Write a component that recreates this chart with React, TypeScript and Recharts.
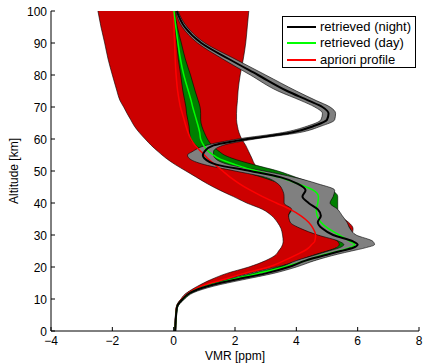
import { ComposedChart, Area, Line, XAxis, YAxis } from 'recharts'

// altitude grid [km]
const alt = [0, 7, 8, 10, 12, 14, 16, 18, 20, 22, 24, 25, 26, 27, 28, 30, 32, 34, 36, 38, 40, 42, 44, 46, 48, 50, 52, 54, 55, 56, 58, 60, 62, 64, 66, 68, 70, 72, 75, 80, 85, 90, 95, 100]

// apriori profile and its error band [ppm]
const apriori = [0.05, 0.09, 0.12, 0.27, 0.5, 0.9, 1.6, 2.3, 3.1, 3.6, 4.05, 4.25, 4.4, 4.5, 4.6, 4.63, 4.55, 4.4, 4.15, 3.8, 3.35, 2.9, 2.5, 2.15, 1.85, 1.6, 1.35, 1.1, 1.0, 0.9, 0.7, 0.56, 0.47, 0.4, 0.34, 0.28, 0.22, 0.18, 0.13, 0.08, 0.05, 0.03, 0.01, 0.0]
const aprioriLow = [0.04, 0.08, 0.1, 0.24, 0.44, 0.78, 1.2, 1.73, 2.45, 3.0, 3.35, 3.42, 3.5, 3.55, 3.57, 3.55, 3.5, 3.38, 3.2, 2.9, 2.38, 1.95, 1.5, 1.1, 0.75, 0.4, 0.05, -0.25, -0.38, -0.5, -0.73, -0.93, -1.12, -1.28, -1.4, -1.52, -1.63, -1.75, -1.85, -2.0, -2.14, -2.25, -2.37, -2.47]
const aprioriHigh = [0.06, 0.1, 0.13, 0.3, 0.52, 0.98, 1.65, 2.45, 3.35, 4.3, 4.85, 5.1, 5.3, 5.45, 5.6, 5.8, 5.85, 5.7, 5.4, 5.2, 5.0, 4.7, 4.3, 3.8, 3.3, 2.85, 2.65, 2.55, 2.5, 2.45, 2.35, 2.22, 2.13, 2.08, 2.05, 2.05, 2.06, 2.08, 2.1, 2.17, 2.27, 2.35, 2.4, 2.45]

// retrieved (night) and its error band
const night = [0.05, 0.1, 0.13, 0.3, 0.55, 1.1, 2.0, 3.0, 3.75, 4.3, 5.05, 5.45, 5.85, 6.0, 5.85, 5.2, 4.85, 4.7, 4.8, 4.7, 4.4, 4.2, 4.3, 4.05, 3.5, 2.5, 1.4, 1.0, 0.95, 1.0, 1.3, 2.4, 3.85, 4.55, 5.0, 5.05, 4.85, 4.4, 3.7, 2.75, 1.8, 0.9, 0.36, 0.1]
const nightLow = [0.03, 0.08, 0.1, 0.24, 0.45, 0.95, 1.8, 2.75, 3.5, 4.0, 4.7, 5.05, 5.4, 5.55, 5.4, 4.7, 4.15, 3.8, 3.75, 3.85, 3.6, 3.6, 3.55, 3.4, 3.0, 2.0, 1.0, 0.5, 0.45, 0.6, 1.05, 2.1, 3.55, 4.35, 4.8, 4.85, 4.6, 4.15, 3.4, 2.5, 1.6, 0.78, 0.28, 0.06]
const nightHigh = [0.07, 0.12, 0.16, 0.36, 0.65, 1.3, 2.25, 3.25, 4.0, 4.6, 5.35, 5.8, 6.25, 6.55, 6.5, 5.95, 5.75, 5.65, 5.5, 5.35, 5.1, 5.2, 5.25, 4.7, 3.95, 2.95, 1.8, 1.35, 1.3, 1.3, 1.6, 2.65, 4.1, 4.8, 5.25, 5.28, 5.1, 4.65, 4.0, 3.0, 2.0, 1.02, 0.44, 0.14]

// retrieved (day) and its error band
const day = [0.05, 0.1, 0.13, 0.3, 0.55, 1.05, 1.85, 2.75, 3.6, 4.3, 4.95, 5.4, 5.75, 5.9, 5.75, 5.4, 5.05, 4.8, 4.68, 4.65, 4.7, 4.72, 4.55, 4.05, 3.45, 2.7, 2.0, 1.45, 1.29, 1.15, 0.98, 0.88, 0.85, 0.8, 0.74, 0.68, 0.62, 0.57, 0.48, 0.33, 0.22, 0.14, 0.07, 0.01]
const dayLow = [0.04, 0.09, 0.12, 0.27, 0.5, 0.95, 1.7, 2.55, 3.4, 4.05, 4.65, 5.0, 5.3, 5.4, 5.35, 4.95, 4.5, 4.0, 3.75, 3.85, 4.1, 4.25, 4.0, 3.5, 2.9, 2.2, 1.6, 1.2, 1.05, 0.95, 0.72, 0.55, 0.52, 0.5, 0.46, 0.42, 0.4, 0.36, 0.3, 0.23, 0.15, 0.1, 0.05, 0.0]
const dayHigh = [0.06, 0.11, 0.14, 0.33, 0.6, 1.15, 2.0, 2.95, 3.8, 4.55, 5.2, 5.65, 6.0, 6.1, 6.0, 5.85, 5.75, 5.6, 5.45, 5.35, 5.35, 5.35, 5.15, 4.6, 4.0, 3.4, 2.6, 1.9, 1.65, 1.5, 1.25, 1.1, 1.0, 0.92, 0.88, 0.88, 0.86, 0.8, 0.7, 0.55, 0.38, 0.25, 0.12, 0.03]

const xTicks = [-4, -2, 0, 2, 4, 6, 8]
const yTicks = [0, 10, 20, 30, 40, 50, 60, 70, 80, 90, 100]

const rows = alt.map((a, i) => ({
  alt: a,
  apBand: [aprioriLow[i], aprioriHigh[i]],
  nightBand: [nightLow[i], nightHigh[i]],
  dayBand: [dayLow[i], dayHigh[i]],
  apriori: apriori[i],
  night: night[i],
  day: day[i],
}))

const FONT = '"Liberation Sans", Arial, Helvetica, sans-serif'

const legendItems = [
  { label: 'retrieved (night)', color: '#000000' },
  { label: 'retrieved (day)', color: '#00ff00' },
  { label: 'apriori profile', color: '#ff0000' },
]

function fmt(v: number) {
  return v < 0 ? `\u2212${Math.abs(v)}` : `${v}`
}

function XTick(props: any) {
  const { x, y, payload } = props
  return (
    <g>
      <line x1={x} x2={x} y1={y} y2={y - 4} stroke="#000" strokeWidth={1} />
      <text x={x} y={y + 14} textAnchor="middle" fontSize={12} fontFamily={FONT} fill="#000">
        {fmt(payload.value)}
      </text>
    </g>
  )
}

function YTick(props: any) {
  const { x, y, payload } = props
  return (
    <g>
      <line x1={x} x2={x + 4} y1={y} y2={y} stroke="#000" strokeWidth={1} />
      <text x={x - 4} y={y + 4.5} textAnchor="end" fontSize={12} fontFamily={FONT} fill="#000">
        {payload.value}
      </text>
    </g>
  )
}

function LegendBox() {
  return (
    <div
      style={{
        position: 'absolute',
        left: 282,
        top: 16,
        width: 134,
        height: 52,
        border: '1px solid #000',
        background: '#fff',
        fontFamily: FONT,
        fontSize: 13,
        paddingTop: 2,
        boxSizing: 'border-box',
      }}
    >
      {legendItems.map((it) => (
        <div key={it.label} style={{ display: 'flex', alignItems: 'center', height: 16.3, lineHeight: '16px' }}>
          <div style={{ width: 29, height: 2, background: it.color, marginLeft: 4, marginRight: 4 }} />
          <span style={{ color: '#000', whiteSpace: 'nowrap' }}>{it.label}</span>
        </div>
      ))}
    </div>
  )
}

export default function App() {
  return (
    <div style={{ position: 'absolute', left: 0, top: 0, width: 424, height: 364, background: '#fff' }}>
      <ComposedChart
        width={424}
        height={364}
        layout="vertical"
        data={rows}
        margin={{ top: 11, right: 5, bottom: 0, left: 0 }}
      >
        <XAxis
          type="number"
          domain={[-4, 8]}
          ticks={xTicks}
          allowDataOverflow
          height={33}
          tickSize={0}
          tickMargin={0}
          tickLine={false}
          axisLine={{ stroke: '#000', strokeWidth: 1 }}
          tick={<XTick />}
          label={{ value: 'VMR [ppm]', position: 'insideBottom', offset: 4, fontSize: 12, fontFamily: FONT, fill: '#000' }}
        />
        <YAxis
          type="number"
          dataKey="alt"
          domain={[0, 100]}
          ticks={yTicks}
          reversed
          width={51}
          tickSize={0}
          tickMargin={0}
          tickLine={false}
          axisLine={{ stroke: '#000', strokeWidth: 1 }}
          tick={<YTick />}
          label={{ value: 'Altitude [km]', angle: -90, position: 'insideLeft', offset: 14, fontSize: 12, fontFamily: FONT, fill: '#000', style: { textAnchor: 'middle' } }}
        />
        <Area dataKey="apBand" type="monotone" fill="#cc0000" fillOpacity={1} stroke="#000" strokeWidth={0.6} isAnimationActive={false} />
        <Area dataKey="dayBand" type="monotone" fill="#007f00" fillOpacity={1} stroke="#000" strokeWidth={0.6} isAnimationActive={false} />
        <Area dataKey="nightBand" type="monotone" fill="#808080" fillOpacity={1} stroke="#000" strokeWidth={0.6} isAnimationActive={false} />
        <Line dataKey="apriori" type="monotone" stroke="#ff0000" strokeWidth={1.5} dot={false} isAnimationActive={false} />
        <Line dataKey="day" type="monotone" stroke="#00ff00" strokeWidth={1.5} dot={false} isAnimationActive={false} />
        <Line dataKey="night" type="monotone" stroke="#000000" strokeWidth={2} dot={false} isAnimationActive={false} />
      </ComposedChart>
      <LegendBox />
    </div>
  )
}
